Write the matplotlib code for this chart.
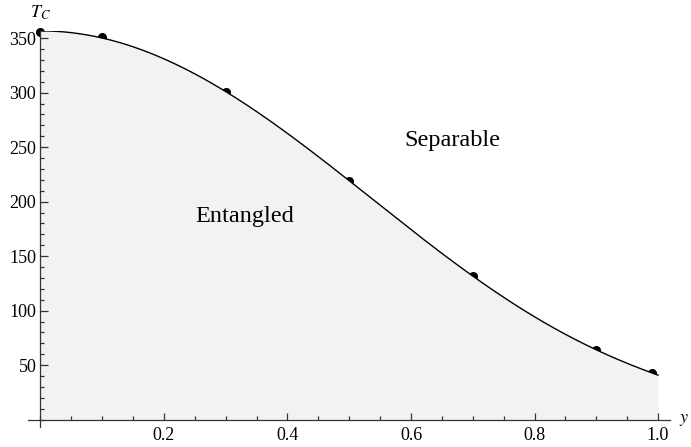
import numpy as np
import matplotlib
matplotlib.use('Agg')
import matplotlib.pyplot as plt
from matplotlib.ticker import MultipleLocator

plt.rcParams['font.family'] = 'Liberation Serif'
plt.rcParams['mathtext.fontset'] = 'stix'

# Data points (critical temperature vs y)
y_vals = [0.0, 0.1, 0.3, 0.5, 0.7, 0.9, 0.99]
tc_vals = [356, 351, 301, 219, 132, 64, 43]

# Smooth curve: even polynomial fit through the points
yv = np.array(y_vals)
coef = np.polyfit(yv**2, np.array(tc_vals), 3)
xs = np.linspace(0, 1.0, 400)
curve = np.polyval(coef, xs**2)

fig = plt.figure(figsize=(6.91, 4.47), dpi=100)
ax = fig.add_axes([28 / 691, 20 / 447, 642 / 691, 396 / 447])
ax.set_axisbelow(False)

ax.plot(y_vals, tc_vals, 'o', color='black', markersize=5.5, zorder=1, clip_on=False)
ax.fill_between(xs, 0, curve, color='#f2f2f2', zorder=2, linewidth=0)
ax.plot(xs, curve, color='black', linewidth=1.0, zorder=3)

ax.set_xlim(-0.0202, 1.0194)
ax.set_ylim(-6.7, 356.6)

for s in ['top', 'right']:
    ax.spines[s].set_visible(False)
ax.spines['left'].set_position(('data', 0))
ax.spines['bottom'].set_position(('data', 0))
for s in ['left', 'bottom']:
    ax.spines[s].set_color('#333333')
    ax.spines[s].set_linewidth(0.9)
    ax.spines[s].set_zorder(4)

ax.xaxis.set_major_locator(MultipleLocator(0.2))
ax.xaxis.set_minor_locator(MultipleLocator(0.05))
ax.yaxis.set_major_locator(MultipleLocator(50))
ax.yaxis.set_minor_locator(MultipleLocator(10))

ax.tick_params(which='both', direction='in', color='#333333', width=0.9, labelsize=13)
ax.tick_params(which='major', length=5.4)
ax.tick_params(which='minor', length=2.9)
ax.tick_params(axis='x', pad=5)
ax.tick_params(axis='y', pad=3)

ax.set_xticks([0.2, 0.4, 0.6, 0.8, 1.0])
ax.set_xticklabels(['0.2', '0.4', '0.6', '0.8', '1.0'])
ax.set_yticks([50, 100, 150, 200, 250, 300, 350])

ax.text(0.33, 186, 'Entangled', fontsize=17.5, ha='center', va='center', zorder=5)
ax.text(0.667, 256, 'Separable', fontsize=17.5, ha='center', va='center', zorder=5)

fig.text(40 / 691, 1 - 13 / 447, '$T_C$', fontsize=13, ha='center', va='center')
fig.text(679 / 691, 1 - 420 / 447, '$y$', fontsize=13, ha='left', va='center')

fig.savefig('out.png', dpi=100)
